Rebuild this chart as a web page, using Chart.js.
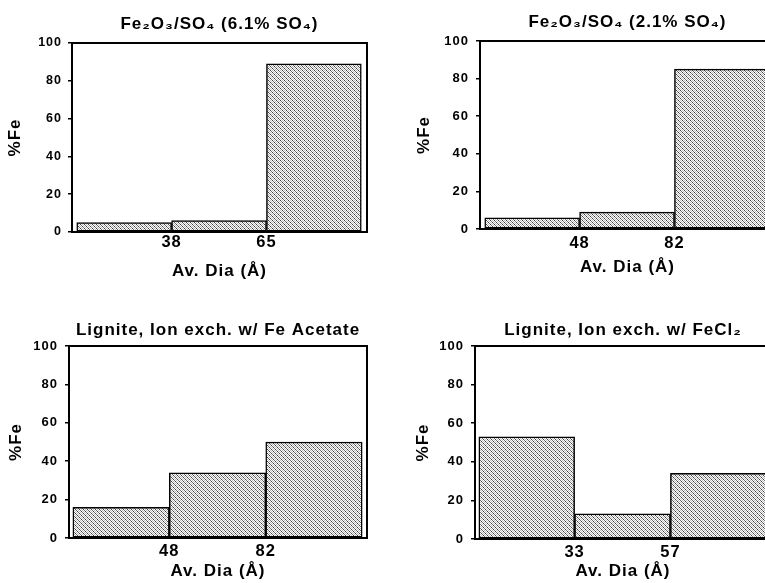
<!DOCTYPE html>
<html><head><meta charset="utf-8">
<script src="https://cdn.jsdelivr.net/npm/chart.js@4"></script>
<style>
html,body{margin:0;padding:0;background:#fff;width:765px;height:583px;overflow:hidden;position:relative}
canvas{position:absolute}
</style></head><body>
<script>
// ---- data ----
const titles = ['Fe₂O₃/SO₄ (6.1% SO₄)', 'Fe₂O₃/SO₄ (2.1% SO₄)', 'Lignite, Ion exch. w/ Fe Acetate', 'Lignite, Ion exch. w/ FeCl₂'];
const binCenters = [0.5, 1.5, 2.5];
const edgeLabelsA = ['38', '65'];
const edgeLabelsB = ['48', '82'];
const edgeLabelsC = ['48', '82'];
const edgeLabelsD = ['33', '57'];
const valuesA = [5, 6, 89];
const valuesB = [6, 9, 85];
const valuesC = [16, 34, 50];
const valuesD = [53, 13, 34];
const yTickValues = [0, 20, 40, 60, 80, 100];
const xAxisTitle = 'Av. Dia (Å)';
const yAxisTitle = '%Fe';

// ---- layout (pixels) ----
const layouts = [
  {L:72,  R:367, T:43,  B:232, titleY:24,  xTitleY:271, yTitleX:15,  xTickPad:1, yTickPad:6, tickSize:12.5, xMin:-0.05, xMax:3.06},
  {L:480, R:775, T:41,  B:229, titleY:22,  xTitleY:267, yTitleX:424, xTickPad:5, yTickPad:7, tickSize:13, xMin:-0.05, xMax:3.06},
  {L:69,  R:367, T:346, B:538, titleY:330, xTitleY:571, yTitleX:16,  xTickPad:4, yTickPad:7, tickSize:13, xMin:-0.04, xMax:3.05},
  {L:475, R:771, T:346, B:539, titleY:330, xTitleY:571, yTitleX:423, xTickPad:4, yTickPad:7, tickSize:13, xMin:-0.04, xMax:3.05}
];
const FAMILY = '"Liberation Sans", Arial, Helvetica, sans-serif';
const TFS = 17;
const XTFS = 16.5;

// hatch pattern
const pc = document.createElement('canvas'); pc.width = 4; pc.height = 4;
const p = pc.getContext('2d');
p.fillStyle = '#fff'; p.fillRect(0,0,4,4);
for (let i=0;i<4;i++){ p.fillStyle = (i%2 ? '#707070' : '#404040'); p.fillRect(i,i,1,1); p.fillStyle='#bdbdbd'; p.fillRect(i,(i+2)%4,1,1); }
const pattern = p.createPattern(pc, 'repeat');

const framePlugin = {id:'frame', afterDatasetsDraw(chart){
  const {ctx, chartArea:a} = chart; ctx.save(); ctx.strokeStyle='#000'; ctx.lineWidth=2;
  ctx.strokeRect(a.left, a.top, a.right-a.left, a.bottom-a.top); ctx.restore();
}};
const spacingPlugin = {id:'spacing', beforeDraw(chart){ chart.ctx.letterSpacing = '1px'; }};

function makeChart(idx, values, edgeLabels){
  const c = layouts[idx];
  const YW=72, TH=43, XH=58, PR=15;
  const left=c.L-YW, top=c.T-TH, w=c.R-c.L+YW+PR, h=c.B-c.T+TH+XH;
  const cv = document.createElement('canvas');
  cv.width=w; cv.height=h;
  cv.style.left=left+'px'; cv.style.top=top+'px'; cv.style.width=w+'px'; cv.style.height=h+'px';
  document.body.appendChild(cv);
  const lh = TFS*1.2;
  const tPadTop = c.titleY - top - lh/2;
  new Chart(cv, {
    type:'bar',
    data:{datasets:[{
      data: binCenters.map((x,i)=>({x:x, y:values[i]})),
      backgroundColor: pattern, borderColor:'#000', borderWidth:1.5, borderSkipped:false,
      barPercentage:1, categoryPercentage:1
    }]},
    options:{
      responsive:false, animation:false, devicePixelRatio:1,
      layout:{padding:{left:0,right:PR,top:0,bottom:0}},
      plugins:{
        legend:{display:false}, tooltip:{enabled:false},
        title:{display:true, text:titles[idx], fullSize:false, color:'#000',
          font:{family:FAMILY, size:TFS, weight:'bold'},
          padding:{top:tPadTop, bottom:TH - tPadTop - lh}}
      },
      scales:{
        x:{type:'linear', min:c.xMin, max:c.xMax, offset:false,
          grid:{display:false, drawTicks:false}, border:{display:false},
          afterBuildTicks:s=>{ s.ticks = [{value:1},{value:2}]; },
          ticks:{autoSkip:false, maxRotation:0, padding:c.xTickPad, color:'#000',
            font:{family:FAMILY, size:XTFS, weight:'bold'},
            callback:(v,i)=>edgeLabels[i]},
          title:{display:true, text:xAxisTitle, color:'#000', font:{family:FAMILY, size:TFS, weight:'bold'},
            padding:{top:0, bottom:c.B + XH - lh/2 - c.xTitleY}},
          afterFit:s=>{ s.height = XH; }
        },
        y:{min:0, max:100,
          afterBuildTicks:s=>{ s.ticks = yTickValues.map(v=>({value:v})); },
          grid:{display:true, drawOnChartArea:false, drawTicks:true, tickLength:4, color:'#000', lineWidth:1.5},
          border:{display:false},
          ticks:{padding:c.yTickPad, color:'#000', font:{family:FAMILY, size:c.tickSize, weight:'bold'}},
          title:{display:true, text:yAxisTitle, color:'#000', font:{family:FAMILY, size:TFS, weight:'bold'},
            padding:{top:c.yTitleX - left - lh/2, bottom:0}},
          afterFit:s=>{ s.width = YW; }
        }
      }
    },
    plugins:[framePlugin, spacingPlugin]
  });
}
makeChart(0, valuesA, edgeLabelsA);
makeChart(1, valuesB, edgeLabelsB);
makeChart(2, valuesC, edgeLabelsC);
makeChart(3, valuesD, edgeLabelsD);
</script>
</body></html>
